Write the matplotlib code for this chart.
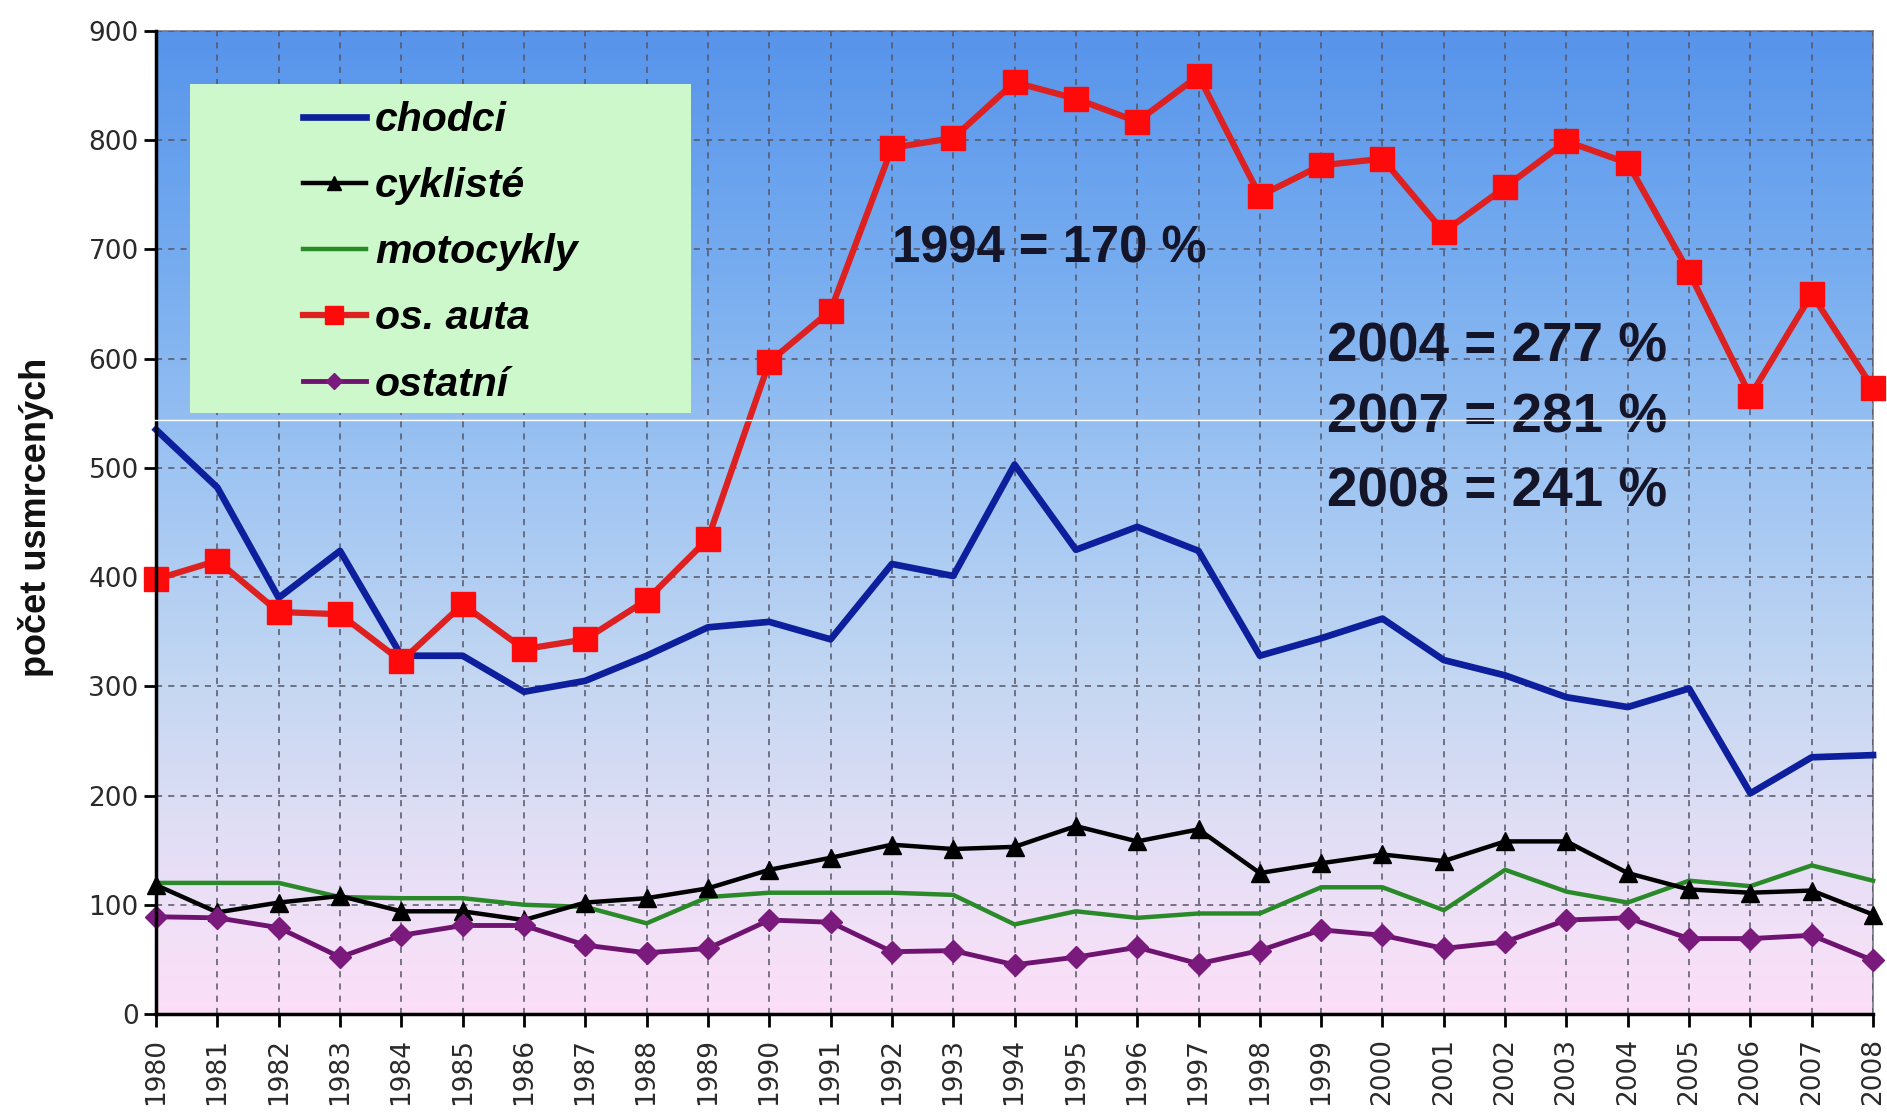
import matplotlib
matplotlib.use("Agg")
import matplotlib.pyplot as plt
import numpy as np
from matplotlib.colors import LinearSegmentedColormap
from matplotlib.patches import Rectangle
from matplotlib.lines import Line2D

years = list(range(1980, 2009))
chodci = [535, 482, 381, 424, 328, 328, 295, 305, 328, 354, 359, 343, 412, 401, 503,
          425, 446, 424, 328, 344, 362, 324, 310, 290, 281, 298, 202, 235, 237]
cykliste = [118, 93, 102, 108, 94, 94, 86, 102, 106, 115, 132, 143, 155, 151, 153,
            172, 158, 169, 129, 138, 146, 140, 158, 158, 129, 114, 111, 113, 91]
motocykly = [120, 120, 120, 107, 106, 106, 100, 98, 83, 107, 111, 111, 111, 109, 82,
             94, 88, 92, 92, 116, 116, 95, 132, 112, 102, 122, 117, 136, 122]
os_auta = [398, 415, 368, 366, 323, 375, 334, 343, 379, 435, 597, 644, 793, 802, 853,
           838, 817, 859, 749, 777, 783, 716, 757, 799, 779, 679, 566, 659, 573]
ostatni = [89, 88, 79, 52, 72, 81, 81, 63, 56, 60, 86, 84, 57, 58, 45,
           52, 61, 46, 58, 77, 72, 60, 66, 86, 88, 69, 69, 72, 49]

labels = ["chodci", "cyklisté", "motocykly", "os. auta", "ostatní"]
notes = ["1994 = 170 %", "2004 = 277 %", "2007 = 281 %", "2008 = 241 %"]
yticks = list(range(0, 1000, 100))

fig = plt.figure(figsize=(18.87, 11.14), dpi=100)
ax = fig.add_axes([0.0827, 0.0898, 0.9099, 0.8824])

# background gradient
bg = LinearSegmentedColormap.from_list("bg", [
    (0.0, (0.99, 0.87, 0.97)),
    (0.08, (0.95, 0.88, 0.97)),
    (0.2, (0.87, 0.87, 0.96)),
    (0.35, (0.76, 0.84, 0.95)),
    (0.55, (0.62, 0.77, 0.95)),
    (0.75, (0.47, 0.68, 0.94)),
    (1.0, (0.34, 0.58, 0.92)),
])
grad = np.linspace(0, 1, 256).reshape(-1, 1)
ax.imshow(grad, cmap=bg, origin="lower", aspect="auto",
          extent=[1980, 2008, 0, 900], zorder=0)

ax.set_xlim(1980, 2008)
ax.set_ylim(0, 900)

ax.grid(True, color="#555566", linestyle=(0, (4, 4)), linewidth=1.1, zorder=1)
ax.set_axisbelow(False)
for gl in ax.get_xgridlines() + ax.get_ygridlines():
    gl.set_zorder(1)

ax.plot(years, motocykly, color="#2a8a2a", lw=3.2, zorder=3, label=labels[2], clip_on=False)
ax.plot(years, cykliste, color="black", lw=3.2, marker="^", ms=13, zorder=4,
        label=labels[1], clip_on=False)
ax.plot(years, chodci, color="#0d1f9c", lw=4.8, zorder=5, label=labels[0], clip_on=False)
ax.plot(years, ostatni, color="#6e1470", lw=3.5, marker="D", ms=11, mfc="#7a1a7c",
        mec="#7a1a7c", zorder=6, label=labels[4], clip_on=False)
ax.plot(years, os_auta, color="#dd2020", lw=4.5, marker="s", ms=17, mfc="#ff0a0a",
        mec="#ff0a0a", zorder=7, label=labels[3], clip_on=False)

# legend box
ax.add_patch(Rectangle((0.020, 0.611), 0.2916, 0.335, transform=ax.transAxes,
                       facecolor="#ccf8cc", edgecolor="none", zorder=8))
h, l = ax.get_legend_handles_labels()
hd = dict(zip(l, h))
leg = ax.legend([hd[x] for x in labels], labels, loc="upper left",
                bbox_to_anchor=(0.0734, 0.9493), frameon=False, borderpad=0,
                handlelength=1.55, handletextpad=0.22, labelspacing=0.685,
                prop={"family": "Liberation Sans", "weight": "bold", "style": "italic",
                      "size": 29.5}, markerscale=0.75)
leg.set_zorder(9)

# annotations
ax.text(1992.0, 700, notes[0], fontsize=36.5, fontweight="bold", family="Liberation Sans",
        color="#15152a", va="center", ha="left", zorder=9)
for txt, yv in zip(notes[1:], [610, 545, 477]):
    ax.text(1999.1, yv, txt, fontsize=39.5, fontweight="bold", family="Liberation Sans",
            color="#15152a", va="center", ha="left", zorder=9)

ax.set_xticks(years)
ax.set_xticklabels([str(y) for y in years], rotation=90)
ax.set_yticks(yticks)
ax.tick_params(axis="both", labelsize=19, labelcolor="#2a2a2a", direction="out",
               length=9, width=2, color="black")
ax.tick_params(axis="x", pad=8)
for lab in ax.get_xticklabels() + ax.get_yticklabels():
    lab.set_family("DejaVu Sans")

for s in ["left", "bottom"]:
    ax.spines[s].set_linewidth(2.5)
    ax.spines[s].set_color("black")
    ax.spines[s].set_zorder(10)
for s in ["top", "right"]:
    ax.spines[s].set_linewidth(1.2)
    ax.spines[s].set_color("#777788")

fig.text(0.019, 0.536, "počet usmrcených", rotation=90, fontsize=26, fontweight="bold",
         family="Liberation Sans", ha="center", va="center", color="#111111")

# thin white horizontal artefact line
fig.add_artist(Line2D([0, 1], [0.623, 0.623], transform=fig.transFigure,
                      color="white", lw=1, zorder=20))

fig.savefig("out.png", dpi=100, facecolor="white")
